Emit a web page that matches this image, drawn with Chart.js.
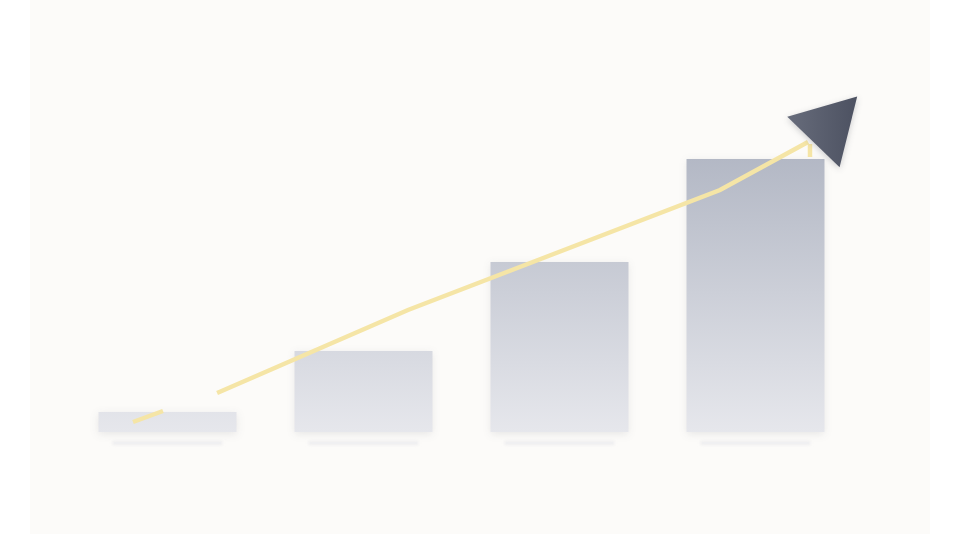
<!DOCTYPE html>
<html>
<head>
	<title>Growth bars with trend arrow</title>
	<script src="https://cdn.jsdelivr.net/npm/chart.js@4.4.0/dist/chart.umd.min.js"></script>
	<style>
		html, body { margin: 0; padding: 0; background: #ffffff; }
		#panel { position: absolute; left: 30px; top: 0; width: 900px; height: 534px; background: #fcfbf9; }
		#wrap { position: absolute; left: 0; top: 0; width: 960px; height: 540px; }
	</style>
</head>
<body>
	<div id="panel"></div>
	<div id="wrap"><canvas id="chart"></canvas></div>
<script>
	// categories and values (y units, bottom of bars = 0)
	const categories = ['1', '2', '3', '4'];
	const barValues = [5, 20.25, 42.5, 68.25];
	const shadowValues = [[-2.3, -3.2], [-2.3, -3.2], [-2.3, -3.2], [-2.3, -3.2]];
	// trend line, x in category units (0 = first bar centre), null = break
	const trendX = [-0.176, -0.023, 0.1, 0.253, 1.227, 2.819, 3.268, 3.27, 3.278, 3.278];
	const trendY = [2.5, 5.25, null, 9.75, 30.5, 60.5, 72.5, null, 72.0, 68.75];
	const arrowX = [3.37];
	const arrowY = [76.3];

	function barGradient(context) {
		const area = context.chart.chartArea;
		if (!area) return '#cfd2da';
		const y = context.chart.scales.y;
		const g = context.chart.ctx.createLinearGradient(0, y.getPixelForValue(70), 0, y.getPixelForValue(0));
		g.addColorStop(0, '#b2b7c4');
		g.addColorStop(1, '#e6e7ec');
		return g;
	}
	function arrowGradient(context) {
		const area = context.chart.chartArea;
		if (!area) return '#585d6c';
		const p = context.element;
		if (!p || p.x === undefined) return '#585d6c';
		const g = context.chart.ctx.createLinearGradient(p.x - 40, p.y, p.x + 40, p.y);
		g.addColorStop(0, '#676c7b');
		g.addColorStop(1, '#484d5d');
		return g;
	}

	const softShadow = {
		id: 'softShadow',
		beforeDatasetDraw(chart, args) {
			const ctx = chart.ctx;
			ctx.save();
			if (args.index === 1) {
				ctx.shadowColor = 'rgba(40,45,60,0.10)';
				ctx.shadowBlur = 8;
				ctx.shadowOffsetY = 2;
			} else if (args.index === 0) {
				ctx.filter = 'blur(1.5px)';
			} else if (args.index === 3) {
				ctx.shadowColor = 'rgba(30,35,50,0.22)';
				ctx.shadowBlur = 6;
				ctx.shadowOffsetY = 2;
			}
		},
		afterDatasetDraw(chart) {
			chart.ctx.restore();
		}
	};

	const trendData = trendX.map((x, i) => ({x: x, y: trendY[i]}));
	const arrowData = arrowX.map((x, i) => ({x: x, y: arrowY[i]}));

	new Chart(document.getElementById('chart'), {
		type: 'bar',
		data: {
			labels: categories,
			datasets: [{
				data: shadowValues,
				backgroundColor: '#ebebee',
				barPercentage: 0.56,
				categoryPercentage: 1.0,
				grouped: false,
				order: 4
			}, {
				data: barValues,
				backgroundColor: barGradient,
				barPercentage: 0.704,
				categoryPercentage: 1.0,
				grouped: false,
				order: 3
			}, {
				type: 'line',
				data: trendData,
				xAxisID: 'xl',
				borderColor: '#f5e5a6',
				borderWidth: 4.5,
				pointRadius: 0,
				spanGaps: false,
				tension: 0,
				clip: false,
				order: 2
			}, {
				type: 'scatter',
				data: arrowData,
				xAxisID: 'xl',
				pointStyle: 'triangle',
				pointRadius: 42,
				rotation: 44,
				backgroundColor: arrowGradient,
				borderWidth: 0,
				clip: false,
				order: 1
			}]
		},
		options: {
			responsive: true,
			maintainAspectRatio: false,
			animation: false,
			layout: { autoPadding: false, padding: { left: 69.5, right: 106.5, top: 32, bottom: 8 } },
			plugins: { legend: { display: false }, tooltip: { enabled: false } },
			scales: {
				x: { display: false, offset: true },
				xl: { type: 'linear', display: false, offset: false, min: -0.5, max: 3.5 },
				y: { display: false, min: -25, max: 100 }
			}
		},
		plugins: [softShadow]
	});
</script>
</body>
</html>
